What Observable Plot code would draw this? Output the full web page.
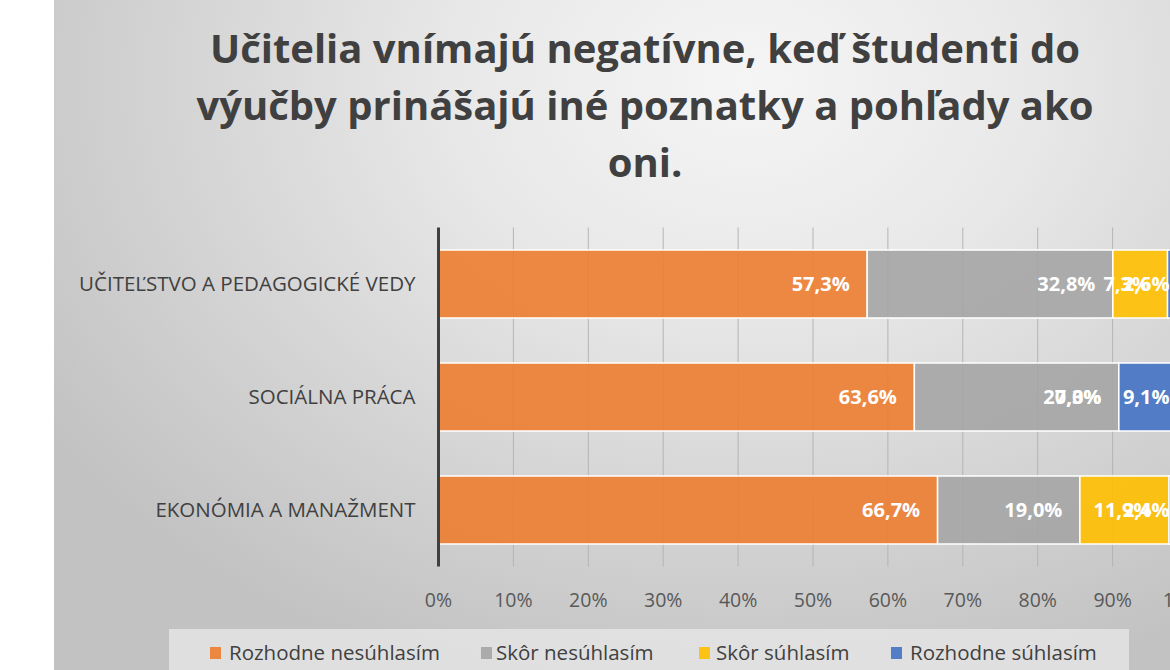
<!DOCTYPE html>
<html><head><meta charset="utf-8">
<script src="https://cdn.jsdelivr.net/npm/d3@7"></script>
<script src="https://cdn.jsdelivr.net/npm/@observablehq/plot@0.6"></script>
<style>
body{margin:0;background:#fff;}
#wrap{position:relative;width:1170px;height:670px;overflow:hidden;font-family:"Open Sans",sans-serif;}
#bg{position:absolute;left:54px;top:0;width:1116px;height:670px;
 background:radial-gradient(ellipse 75% 95% at 62% 12%, #f5f5f5 0%, #e8e8e8 35%, #d6d6d6 65%, #c2c2c2 100%);}
#title{position:absolute;left:145px;width:1000px;top:19px;text-align:center;font-weight:700;font-size:40px;line-height:57px;color:#404040;}
#chart{position:absolute;left:0;top:210px;}
#legend{position:absolute;left:169px;top:629px;width:960px;height:50px;background:rgba(232,232,232,0.75);}
.li{position:absolute;top:11px;font-size:20.5px;color:#404040;white-space:nowrap;line-height:24px;}
.sq{position:absolute;top:18px;width:11px;height:12px;}
</style></head>
<body>
<div id="wrap">
  <div id="bg"></div>
  <div id="title">Učitelia vnímajú negatívne, keď študenti do<br>výučby prinášajú iné poznatky a pohľady ako<br>oni.</div>
  <div id="chart"></div>
  <div id="legend"></div>
</div>
<script>
const categories = ["U\u010CITE\u013DSTVO A PEDAGOGICK\u00C9 VEDY", "SOCI\u00C1LNA PR\u00C1CA", "EKON\u00D3MIA A MANA\u017DMENT"];
const seriesNames = ["Rozhodne nesúhlasím", "Skôr nesúhlasím", "Skôr súhlasím", "Rozhodne súhlasím"];
const rozhodneNesuhlasim = [57.3, 63.6, 66.7];
const skorNesuhlasim = [32.8, 27.3, 19.0];
const skorSuhlasim = [7.3, 0.0, 11.9];
const rozhodneSuhlasim = [2.6, 9.1, 2.4];
const colors = ["#ED7D31", "#A5A5A5", "#FFC000", "#4472C4"];
const tickValues = [0, 10, 20, 30, 40, 50, 60, 70, 80, 90, 100];
const tickLabels = ["0%", "10%", "20%", "30%", "40%", "50%", "60%", "70%", "80%", "90%", "100%"];

const seriesValues = [rozhodneNesuhlasim, skorNesuhlasim, skorSuhlasim, rozhodneSuhlasim];
const data = [];
seriesNames.forEach((s, si) => categories.forEach((c, ci) => data.push({series: s, category: c, value: seriesValues[si][ci]})));
const fmt = v => v.toFixed(1).replace(".", ",") + "%";

const chart = Plot.plot({
  width: 1170,
  height: 410,
  marginTop: 17.5,
  marginBottom: 53.5,
  marginLeft: 438,
  marginRight: 0,
  style: {background: "transparent", overflow: "visible", fontFamily: "Open Sans, sans-serif"},
  x: {domain: [0, 100], range: [438, 1187], axis: null},
  y: {domain: categories, paddingInner: 0.4, paddingOuter: 0.2, axis: null},
  color: {domain: seriesNames, range: colors},
  marks: [
    Plot.ruleX(tickValues.slice(1), {x: d => d, stroke: "#b4b4b4", strokeWidth: 1}),
    Plot.barX(data, {x: "value", y: "category", fill: "series", fillOpacity: 0.9, stroke: "white", strokeWidth: 1.5}),
    Plot.ruleX([0], {stroke: "#404040", strokeWidth: 3}),
    Plot.text(data, Plot.stackX2({x: "value", y: "category", text: d => fmt(d.value), textAnchor: "end", dx: -18, fill: "white", fontWeight: "bold", fontSize: 20})),
    Plot.text(tickValues, {x: d => d, text: (d, i) => tickLabels[i], frameAnchor: "bottom", dy: 40, fill: "#595959", fontSize: 19.5}),
    Plot.text(categories, {x: () => 0, y: d => d, text: d => d, textAnchor: "end", dx: -23, fill: "#404040", fontSize: 20.5})
  ]
});
document.getElementById("chart").appendChild(chart);

const legendPos = [[41, 60], [312, 327], [530, 547], [722, 741]];
const legend = document.getElementById("legend");
seriesNames.forEach((s, i) => {
  const sq = document.createElement("div");
  sq.className = "sq"; sq.style.left = legendPos[i][0] + "px"; sq.style.background = colors[i]; sq.style.opacity = 0.9;
  legend.appendChild(sq);
  const t = document.createElement("div");
  t.className = "li"; t.style.left = legendPos[i][1] + "px"; t.textContent = s;
  legend.appendChild(t);
});
</script>
</body></html>
